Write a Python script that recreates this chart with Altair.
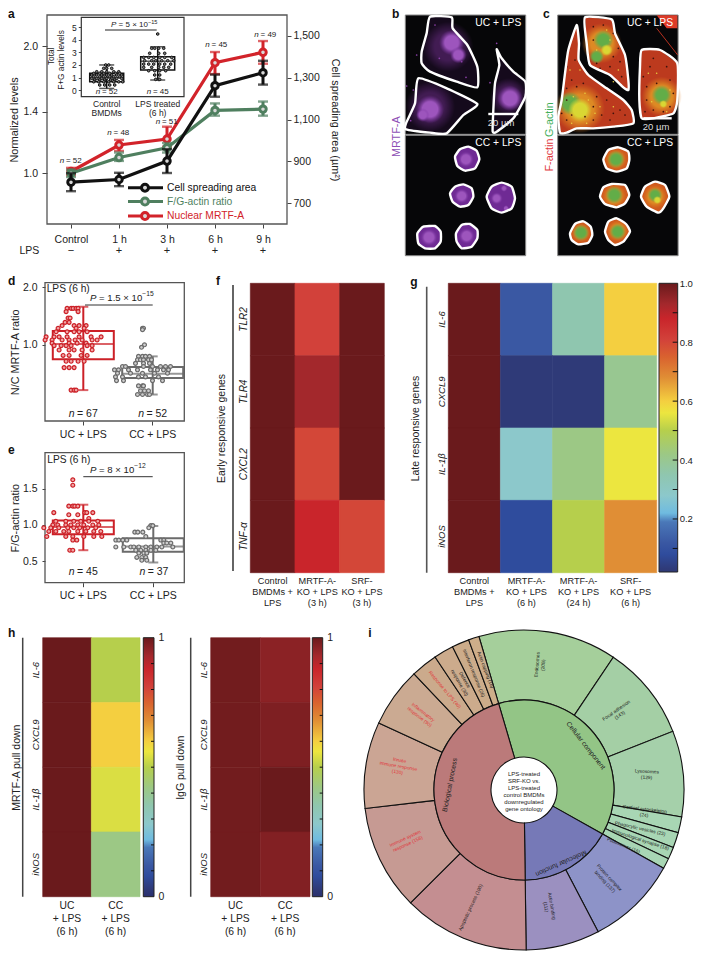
import math
import altair as alt
import pandas as pd

W, H = 686, 944
INK = "#222222"
FRAME = "#555555"
RED = "#d2232a"
GREEN = "#4f7f5f"
BLACK = "#111111"
layers = []

# ---------- data : panel a ----------
TIMES = ["Control", "1 h", "3 h", "6 h", "9 h"]
LPS_ROW = ["−", "+", "+", "+", "+"]
AREA = [800, 813, 901, 1262, 1324]
AREA_ERR = [43, 32, 57, 53, 57]
FG = [1.00, 1.09, 1.15, 1.41, 1.42]
FG_LO = [0.98, 1.07, 1.12, 1.37, 1.37]
FG_HI = [1.02, 1.12, 1.18, 1.465, 1.48]
NUC = [1.01, 1.167, 1.206, 1.83, 1.937]
NUC_LO = [0.99, 1.13, 1.156, 1.72, 1.82]
NUC_HI = [1.03, 1.20, 1.29, 1.94, 2.06]

# inset : box (q1, median, q3, low, high) and dots (value, [offsets])
INSET_CATS = ["Control|BMDMs", "LPS treated|(6 h)"]
INSET_BOX = [(0.66, 0.98, 1.33, 0.13, 2.0), (1.6, 2.3, 2.66, 0.8, 3.45)]
INSET_CTRL = [(2.0, [-1, 2]), (1.73, [-3, 0, 5]), (1.46, [-10, -5, 0, 7, 12]), (1.33, [-13, -7, -3, 3, 9, 13]),
              (1.2, [-15, -10, -5, 0, 5, 10, 15]), (1.06, [-13, -7, -3, 3, 7, 13]), (0.93, [-15, -10, -5, 0, 5, 10, 15]),
              (0.8, [-12, -7, -2, 4, 8]), (0.66, [-13, -8, -3, 2, 7, 12, 16]), (0.4, [-7, -2, 3, 8])]
INSET_LPS = [(4.47, [0]), (3.33, [-6, -3, 1, 6]), (2.93, [-8, 1, 7]), (2.6, [-14, -9, -4, 2, 7, 14]),
             (2.34, [-13, -6, -2, 4, 10, 16]), (2.07, [-14, -9, -4, 2, 7, 13]), (1.81, [-14, -6, 1, 6, 11]),
             (1.54, [-9, -3, 2, 8]), (1.2, [-3, 2]), (0.85, [-2, 1, 2])]

# ---------- data : panels d, e ----------
BOX_CATS = ["UC + LPS", "CC + LPS"]
D_BOX = [(0.84, 1.01, 1.18, 0.58, 1.58), (0.67, 0.706, 0.765, 0.55, 0.87)]
E_BOX = [(0.87, 0.97, 1.06, 0.65, 1.28), (0.63, 0.70, 0.815, 0.48, 0.985)]
D_UC = [(1.55, [-7, -3, -1, 2, 4]), (1.49, [-8, 4]), (1.38, [-6, -4]), (1.31, [-9, -5]), (1.26, [-12, 0, 5, 12]),
        (1.22, [-16, 2, 10]), (1.17, [-18, -7, 0, 5, 13]), (1.10, [-28, -20, -15, -7, 5, 17, 27]),
        (1.06, [-29, -22, -12, -5, 1, 8, 18, 23]), (1.02, [-22, -5, 3, 12]), (0.99, [-20, -13, -8, -3, 13, 18]),
        (0.94, [-15, -5, 0, 8, 18]), (0.88, [-11, -5, 7, 13]), (0.82, [-8, -3, 4, 10]), (0.76, [-10, -5, 0]),
        (0.58, [-3, 0, 2])]
D_CC = [(1.22, [-1, 0]), (1.2, [-1]), (1.0, [1]), (0.97, [-2]), (0.87, [-5, -1, 2, 6]), (0.835, [-6, -3, 0, 5, 8]),
        (0.80, [-8, 0, 6]), (0.77, [-21, -18, 0, 9, 17, 22, 27]), (0.74, [-29, -25, -15, -6, 7, 14, 20, 25]),
        (0.71, [-26, -13, -1, 11, 24]), (0.68, [-28, -21, -5, 2, 15]), (0.65, [-27, -20, 9, 19]), (0.61, [-5, -1, 0]),
        (0.575, [-3, 1, 5]), (0.55, [-6, -1, 4, 6])]
E_UC = [(1.625, [-1]), (1.55, [-1]), (1.26, [-5, -1, 1, 4]), (1.17, [-20, 11, 13, 19]), (1.14, [-5, 4]), (1.09, [15]),
        (1.05, [-18, -8, 0, 7, 15, 24]), (1.0, [-21, -16, -8, -3, 4, 10, 19, 25]), (0.96, [-30, -23, -15, -6, 0, 6, 14, 22]),
        (0.91, [-25, -18, -10, -5, 4, 12, 20, 27]), (0.84, [-27, -8, -1, 10, 20, 28]), (0.79, [-1, 3]), (0.65, [-4, -1])]
E_CC = [(0.99, [7, 9]), (0.96, [5]), (0.90, [-9, -6, -1]), (0.84, [2]), (0.79, [-28, -25, -21, -17, 17, 20]),
        (0.75, [20, 23, 27]), (0.695, [-28, -20, -13, -10, -5, 2, 7, 13, 18, 29]), (0.65, [-8, -3, 2, 7, 12]),
        (0.61, [-5, 0, 3]), (0.55, [-7, -2, 2]), (0.51, [-2, 3])]

# ---------- data : heat maps ----------
CM_V = [0.0, 0.03, 0.08, 0.12, 0.19, 0.22, 0.28, 0.35, 0.42, 0.5, 0.56, 0.6, 0.68, 0.75, 0.81, 0.88, 0.93, 1.0]
CM_C = ["#2a2f6e", "#2f3a78", "#2f4c9d", "#3a58a3", "#4a78b8", "#6fbbe0", "#8cc8cb", "#8fc6af", "#9cc885",
        "#b6cf4c", "#ece63f", "#f4cf40", "#e08e35", "#d9622f", "#d2413a", "#c9252b", "#a3282c", "#6a1a1c"]
F_ROWS = ["TLR2", "TLR4", "CXCL2", "TNF-α"]
F_COLS = ["Control|BMDMs +|LPS", "MRTF-A-|KO + LPS|(3 h)", "SRF-|KO + LPS|(3 h)"]
F_VALS = [[1, 0.81, 1], [1, 0.93, 1], [1, 0.80, 1], [1, 0.88, 0.80]]
G_ROWS = ["IL-6", "CXCL9", "IL-1β", "iNOS"]
G_COLS = ["Control|BMDMs +|LPS", "MRTF-A-|KO + LPS|(6 h)", "MRTF-A-|KO + LPS|(24 h)", "SRF-|KO + LPS|(6 h)"]
G_VALS = [[1, 0.12, 0.35, 0.6], [1, 0.03, 0.03, 0.40], [1, 0.28, 0.42, 0.56], [1, 0.08, 0.5, 0.68]]
H_ROWS = ["IL-6", "CXCL9", "IL-1β", "iNOS"]
H_COLS = ["UC|+ LPS|(6 h)", "CC|+ LPS|(6 h)"]
H1_VALS = [[1, 0.5], [1, 0.6], [1, 0.54], [1, 0.42]]
H2_VALS = [[0.99, 0.96], [0.99, 0.975], [0.99, 1.0], [0.99, 0.97]]
G_BAR_TICKS = [0.1, 0.2, 0.3, 0.4, 0.5, 0.6, 0.7, 0.8, 0.9]
H_BAR_TICKS = [0.1, 0.2, 0.3, 0.4, 0.5, 0.6, 0.7, 0.8, 0.9]

# ---------- data : sunburst ----------
SB_NAMES = ["Endosomes", "Focal adhesion", "Lysosomes", "Cortical cytoskeleton", "Phagocytic vesicles",
            "Immunological synapse", "Podosomes", "Protein complex binding", "Actin binding", "Apoptotic process",
            "Immune system response", "Innate immune response", "Inflammatory response", "Response to LPS",
            "Defence response", "Interferon response", "Actin capping"]
SB_N = [208, 143, 129, 24, 23, 18, 16, 137, 111, 190, 158, 130, 90, 40, 30, 26, 16]
SB_GROUP = ["C"] * 7 + ["M"] * 2 + ["B"] * 8
SB_COL = ["#a5cf9b", "#a4cfa5", "#a5d0aa", "#a8d6b4", "#a8d6b4", "#a8d6b4", "#a8d6b4", "#8d93c8", "#9b90c0",
          "#c48e91", "#c69a93", "#cba594", "#cbaa92", "#cbaa8c", "#ccab8c", "#ccac8a", "#cdae8a"]
SB_INNER = {"C": "#93c586", "M": "#7679b7", "B": "#bb7a7a"}

# ---------- data : micrographs (traced in a 966 x 810 picture space) ----------
B_UC = [[(150, 50), (215, 52), (218, 85), (262, 135), (292, 200), (292, 262), (230, 245), (150, 215), (125, 190), (125, 155), (140, 100)],
        [(115, 235), (200, 265), (292, 312), (250, 345), (200, 400), (150, 398), (78, 388), (78, 370), (105, 310)],
        [(350, 148), (365, 175), (400, 215), (436, 245), (436, 290), (400, 355), (350, 395), (338, 395), (340, 330), (345, 250), (358, 195)]]
B_CC = [[(225, 470), (240, 448), (265, 440), (290, 452), (298, 478), (285, 505), (255, 512), (232, 498)],
        [(210, 580), (225, 560), (250, 553), (275, 565), (280, 590), (265, 615), (240, 620), (218, 605)],
        [(320, 590), (335, 560), (365, 548), (395, 560), (405, 595), (395, 625), (365, 638), (335, 625)],
        [(112, 700), (130, 680), (165, 678), (182, 695), (182, 725), (165, 745), (135, 745), (115, 730)],
        [(228, 700), (245, 675), (270, 672), (292, 690), (292, 715), (275, 740), (245, 745), (230, 725)]]
C_UC = [[(615, 52), (695, 58), (705, 100), (735, 165), (745, 240), (745, 270), (730, 262), (690, 225), (630, 195), (620, 130)],
        [(590, 75), (597, 130), (596, 180), (625, 225), (680, 265), (730, 300), (755, 330), (760, 370), (700, 380), (640, 385), (590, 385), (560, 398), (540, 398), (535, 350), (545, 300), (555, 220), (565, 150)],
        [(785, 150), (840, 150), (892, 190), (892, 300), (880, 340), (820, 355), (785, 355), (778, 300), (780, 200)]]
C_CC = [[(670, 478), (685, 450), (715, 442), (745, 455), (748, 480), (740, 505), (710, 515), (680, 505)],
        [(660, 590), (670, 562), (695, 552), (735, 555), (748, 585), (735, 610), (710, 622), (675, 612)],
        [(783, 590), (795, 560), (825, 545), (855, 555), (868, 590), (850, 625), (835, 638), (800, 620)],
        [(570, 700), (585, 672), (610, 664), (632, 680), (637, 705), (625, 728), (595, 733), (575, 720)],
        [(675, 695), (685, 665), (710, 655), (738, 672), (750, 695), (730, 725), (705, 735), (685, 720)]]
C_CORNER = [[(830, 46), (892, 46), (892, 85), (860, 85)]]
PURPLE_BLOBS = [(215, 128, 38), (235, 165, 25), (150, 328, 42), (128, 345, 20), (390, 295, 38),
                (258, 478, 24), (245, 588, 22), (350, 595, 18), (372, 565, 10), (378, 625, 9), (147, 712, 26), (260, 708, 24)]
PURPLE_HAZE = [(205, 140, 75), (150, 320, 75), (385, 290, 55)]
PURPLE_DOTS = [(178, 175), (258, 232), (92, 362), (80, 258), (350, 130), (165, 75), (110, 165), (330, 248), (245, 185), (100, 270)]
ORANGE_BLOBS = [(665, 130, 60), (600, 325, 75), (845, 290, 60), (708, 478, 32), (703, 588, 36), (825, 590, 36), (603, 698, 28), (713, 692, 32)]
GREEN_BLOBS = [(670, 120, 30), (650, 170, 22), (570, 310, 35), (845, 285, 30), (708, 478, 26), (703, 585, 26), (825, 585, 22), (603, 698, 24), (713, 695, 24)]
YELLOW_BLOBS = [(680, 150, 18), (600, 330, 36), (850, 312, 12), (832, 600, 12)]
DARK_SPECKS = [(560, 200), (575, 240), (560, 300), (640, 120), (690, 200), (660, 205), (720, 185), (725, 230), (810, 200), (830, 250),
               (800, 300), (870, 240), (870, 320), (820, 330), (640, 360), (700, 340), (560, 360), (590, 260), (680, 300), (720, 330),
               (650, 290), (790, 230), (700, 100), (730, 150), (615, 350), (545, 340), (585, 180), (610, 250), (640, 320), (560, 265),
               (575, 345), (665, 345), (735, 345), (690, 360), (820, 175), (860, 200), (800, 260), (880, 280), (795, 335), (850, 335),
               (640, 80), (670, 75), (650, 190), (700, 170), (715, 145)]
HOT_SPECKS = [(580, 290), (625, 300), (615, 280), (645, 340), (660, 320), (575, 370), (620, 370), (700, 320), (650, 150), (690, 120), (680, 90),
              (715, 210), (700, 245), (830, 220), (815, 305), (870, 270), (805, 220), (860, 335), (600, 210), (570, 210)]


# ---------- helpers ----------
def v(a):
    return alt.value(a - 8)


def txt(s, x, y, size=10.5, angle=0, align="center", color=INK, style=None, weight=None, lh=None, baseline="middle"):
    kw = dict(text=s, fontSize=size, align=align, baseline=baseline, color=color, angle=angle)
    if style:
        kw["fontStyle"] = style
    if weight:
        kw["fontWeight"] = weight
    if lh:
        kw["lineHeight"] = lh
    if isinstance(s, list) and len(s) > 1:
        # a multi-line text hangs from its first line : centre the block by hand
        dy = -(len(s) - 1) * (lh or size) / 2
        a = math.radians(angle)
        x, y = x - dy * math.sin(a), y + dy * math.cos(a)
    return alt.Chart().mark_text(**kw).encode(x=v(x), y=v(y))


def rule(x0, y0, x1, y1, color=INK, w=1.2):
    return alt.Chart().mark_rule(color=color, strokeWidth=w).encode(x=v(x0), x2=v(x1), y=v(y0), y2=v(y1))


def frame(x0, y0, x1, y1, stroke=FRAME, fill="transparent", w=1.3):
    return alt.Chart().mark_rect(fill=fill, stroke=stroke, strokeWidth=w).encode(x=v(x0), x2=v(x1), y=v(y0), y2=v(y1))


WID = {"=": .584, "×": .584, " ": .278, ".": .278}


def width(s, size):
    return sum(WID.get(c, .556) for c in s) * size


def n_text(cx, y, rest, size):
    tail = "= " + rest
    total = .5 * size + .278 * size + width(tail, size)
    left = cx - total / 2
    return [txt("n", left, y, size, align="left", style="italic"), txt(tail, left + .778 * size, y, size, align="left")]


def p_text(x, y, main, sup, size):
    tail = "= " + main
    tw = width(tail, size)
    start = x + .945 * size
    return [txt("P", x, y, size, align="left", style="italic"),
            txt(tail, start, y, size, align="left"),
            txt(sup, start + tw, y - size * .42, size * .7, align="left")]


def expand(cat, rows):
    out = []
    for val, dxs in rows:
        for d in dxs:
            out.append({"cat": cat, "v": val, "dx": d})
    return out


def x_bottom(y_px, size=10.5, pad=4, tick=4, split=False, lh=11, ticks=True):
    kw = dict(orient="bottom", offset=y_px - 8 - H, title=None, domain=False, labelAngle=0, labelFontSize=size,
              labelPadding=pad, tickSize=tick if ticks else 0, ticks=ticks, labelOverlap=False, labelLimit=0)
    if split:
        kw["labelExpr"] = "split(datum.label, '|')"
        kw["labelLineHeight"] = lh
    return alt.Axis(**kw)


def box_panel(cats, boxes, dots, colors, fills, xcenters, y_scale, y_axis, x_axis, boxw, capw, sw, dotsize, dotsw):
    step = xcenters[1] - xcenters[0]
    xs = alt.Scale(type="band", domain=cats, range=[xcenters[0] - step / 2 - 8, xcenters[1] + step / 2 - 8], paddingInner=0, paddingOuter=0)
    df = pd.DataFrame([dict(cat=c, q1=b[0], med=b[1], q3=b[2], lo=b[3], hi=b[4], col=k, fil=f)
                       for c, b, k, f in zip(cats, boxes, colors, fills)])
    pts = pd.DataFrame(dots)
    x_none = alt.X("cat:N", scale=xs, axis=None)
    out = []
    for i, cat in enumerate(cats):
        sub = df[df.cat == cat]
        col = colors[i]
        out.append(alt.Chart(sub).mark_rule(color=col, strokeWidth=sw).encode(x=x_none, y=alt.Y("lo:Q", scale=y_scale, axis=None), y2="hi:Q"))
        out.append(alt.Chart(sub).mark_tick(color=col, size=capw, thickness=sw).encode(x=x_none, y=alt.Y("lo:Q", scale=y_scale, axis=None)))
        out.append(alt.Chart(sub).mark_tick(color=col, size=capw, thickness=sw).encode(x=x_none, y=alt.Y("hi:Q", scale=y_scale, axis=None)))
        out.append(alt.Chart(sub).mark_bar(fill="white", fillOpacity=0.0, stroke=col, strokeWidth=sw, size=boxw).encode(x=x_none, y=alt.Y("q1:Q", scale=y_scale, axis=None), y2="q3:Q"))
        out.append(alt.Chart(sub).mark_tick(color=col, size=boxw, thickness=sw).encode(x=x_none, y=alt.Y("med:Q", scale=y_scale, axis=None)))
        out.append(alt.Chart(pts[pts.cat == cat]).mark_circle(fill=fills[i], stroke=col, strokeWidth=dotsw, size=dotsize, opacity=1).encode(
            x=x_none, y=alt.Y("v:Q", scale=y_scale, axis=None),
            xOffset=alt.XOffset("dx:Q", scale=alt.Scale(domain=[-60, 60], range=[-60 + step / 2, 60 + step / 2]))))
    carrier = alt.Chart(df).mark_tick(opacity=0).encode(x=alt.X("cat:N", scale=xs, axis=x_axis), y=alt.Y("med:Q", scale=y_scale, axis=y_axis))
    return [carrier, alt.layer(*out)]


CMAP = alt.Scale(domain=CM_V, range=CM_C, interpolate="rgb")


def heat(rows, cols, vals, x0, x1, y0, y1, title, gene_size, title_pad, x_size, lh, x_pad):
    df = pd.DataFrame([dict(r=r, c=c, v=vals[i][j]) for i, r in enumerate(rows) for j, c in enumerate(cols)])
    xs = alt.Scale(type="band", domain=cols, range=[x0 - 8, x1 - 8], paddingInner=0, paddingOuter=0)
    ys = alt.Scale(type="band", domain=rows, range=[y0 - 8, y1 - 8], paddingInner=0, paddingOuter=0)
    return alt.Chart(df).mark_rect(width=(x1 - x0) / len(cols), strokeWidth=0.6, opacity=1).encode(
        x=alt.X("c:N", scale=xs, axis=x_bottom(y1, size=x_size, pad=x_pad, split=True, lh=lh, ticks=False)),
        y=alt.Y("r:N", scale=ys, axis=alt.Axis(orient="left", offset=-(x0 - 8), title=title, titleFontSize=10.5, titleFontWeight="normal",
                                                titlePadding=title_pad, domain=False, ticks=False, labelAngle=270,
                                                labelFontStyle="italic", labelFontSize=gene_size, labelPadding=2, titleColor=INK)),
        color=alt.Color("v:Q", scale=CMAP, legend=None),
        stroke=alt.Stroke("v:Q", scale=CMAP, legend=None))


def colorbar(x0, x1, y0, y1, dom, ticks, labels, fmt, tick_len, label_size=10.5, label_pad=4):
    ys = alt.Scale(domain=dom, range=[y1 - 8, y0 - 8], nice=False, zero=False)
    span = dom[1] - dom[0]
    stops = [dict(offset=max(0.0, (a - dom[0]) / span), color=c) for a, c in zip(CM_V, CM_C) if a >= dom[0]]
    grad = alt.LinearGradient(gradient="linear", x1=0, x2=0, y1=1, y2=0, stops=stops)
    ends = pd.DataFrame({"lo": [dom[0]], "hi": [dom[1]]})
    carrier = alt.Chart(ends).mark_rule(opacity=0).encode(
        y=alt.Y("lo:Q", scale=ys, axis=alt.Axis(orient="right", offset=x1 - 8 - W, title=None, domain=False, tickSize=0, values=labels,
                                                format=fmt, labelFontSize=label_size, labelPadding=label_pad)))
    body = alt.Chart(ends).mark_rect(fill=grad, stroke="#222222", strokeWidth=1).encode(
        x=v(x0), x2=v(x1), y=alt.Y("lo:Q", scale=ys, axis=None), y2="hi:Q")
    tk = alt.Chart(pd.DataFrame({"t": ticks})).mark_rule(color="#111111", strokeWidth=1).encode(
        x=v(x1 - tick_len), x2=v(x1), y=alt.Y("t:Q", scale=ys, axis=None))
    return [carrier, alt.layer(body, tk)]


# ---------- panel a ----------
layers.append(frame(47, 15, 287, 224))
xa = alt.Scale(type="point", domain=TIMES, range=[39, 279], padding=0.5)
yl = alt.Scale(type="log", domain=[0.758, 2.375], range=[216, 7], nice=False)
yr = alt.Scale(domain=[600, 1600], range=[216, 7], nice=False, zero=False)


def series(vals, lo, hi, color, ys):
    df = pd.DataFrame({"t": TIMES, "m": vals, "lo": lo, "hi": hi})
    x = alt.X("t:N", scale=xa, axis=None)
    return [alt.Chart(df).mark_line(color=color, strokeWidth=3.2).encode(x=x, y=alt.Y("m:Q", scale=ys, axis=None)),
            alt.Chart(df).mark_rule(color=color, strokeWidth=3).encode(x=x, y=alt.Y("lo:Q", scale=ys, axis=None), y2="hi:Q"),
            alt.Chart(df).mark_tick(color=color, size=10, thickness=2.4).encode(x=x, y=alt.Y("lo:Q", scale=ys, axis=None)),
            alt.Chart(df).mark_tick(color=color, size=10, thickness=2.4).encode(x=x, y=alt.Y("hi:Q", scale=ys, axis=None)),
            alt.Chart(df).mark_point(shape="circle", fill="#d8d8d8", stroke=color, strokeWidth=3, size=42, opacity=1, filled=False).encode(x=x, y=alt.Y("m:Q", scale=ys, axis=None))]


a_df = pd.DataFrame({"t": TIMES, "m": NUC, "lps": LPS_ROW})
layers.append(alt.Chart(a_df).mark_tick(opacity=0).encode(
    x=alt.X("t:N", scale=xa, axis=x_bottom(224, size=10.5, pad=6, tick=4)),
    y=alt.Y("m:Q", scale=yl, axis=alt.Axis(orient="left", offset=-39, title="Normalized levels", titleFontSize=10.8, titleFontWeight="normal",
                                            titleColor=INK, titlePadding=3, values=[1.0, 1.4, 2.0], format=".1f", labelFontSize=10.5, domain=False, tickSize=5, labelPadding=4.5))))
a_lps = alt.Chart(a_df).mark_text(fontSize=11, color=INK).encode(x=alt.X("t:N", scale=xa, axis=None), y=alt.value(250.7 - 8), text="lps:N")
layers.append(alt.layer(a_lps, *series(NUC, NUC_LO, NUC_HI, RED, yl), *series(FG, FG_LO, FG_HI, GREEN, yl)))
area_lo = [m - e for m, e in zip(AREA, AREA_ERR)]
area_hi = [m + e for m, e in zip(AREA, AREA_ERR)]
layers.append(alt.Chart(pd.DataFrame({"t": TIMES, "m": AREA})).mark_tick(opacity=0).encode(
    x=alt.X("t:N", scale=xa, axis=None),
    y=alt.Y("m:Q", scale=yr, axis=alt.Axis(orient="right", offset=279 - W, title="Cell spreading area (µm²)", titleFontSize=10.8, titleFontWeight="normal",
                                            titleColor=INK, titlePadding=10, values=[700, 900, 1100, 1300, 1500], format=",d", labelFontSize=10.5, domain=False, tickSize=4))))
layers.append(alt.layer(*series(AREA, area_lo, area_hi, BLACK, yr)))

for lab, col, tcol, yy in [("Cell spreading area", BLACK, BLACK, 187.7), ("F/G-actin ratio", GREEN, GREEN, 201.5), ("Nuclear MRTF-A", RED, RED, 216)]:
    layers.append(rule(128, yy, 163, yy, col, 3))
    layers.append(alt.Chart().mark_point(shape="circle", fill="#d8d8d8", stroke=col, strokeWidth=3, size=48, opacity=1).encode(x=v(145), y=v(yy)))
    layers.append(txt(lab, 167, yy, 10.3, align="left", color=tcol))
layers.append(txt("LPS", 29.3, 250.7, 10.5))
for cx, y, s in [(70.7, 160.7, "52"), (118.3, 132.7, "48"), (166.7, 122, "51"), (216.3, 45, "45"), (265.3, 35, "49")]:
    layers += n_text(cx, y, s, 8)

# inset
layers.append(frame(81.3, 17.3, 184, 96.7, stroke="#333333", fill="white", w=1.2))
in_y = alt.Scale(domain=[-0.53, 5.8], range=[88.7, 9.3], nice=False, zero=False)
layers += box_panel(INSET_CATS, INSET_BOX, expand(INSET_CATS[0], INSET_CTRL) + expand(INSET_CATS[1], INSET_LPS),
                    [BLACK, BLACK], ["#777777", "#777777"], [106.7, 157.7], in_y,
                    alt.Axis(orient="left", offset=-(81.3 - 8), title=None, values=[0, 1, 2, 3, 4, 5], format="d", labelFontSize=8.5, domain=False, tickSize=3, labelPadding=2),
                    x_bottom(96.7, size=8.5, pad=3, tick=0, split=True, lh=8.5, ticks=False), 34, 15, 1.5, 7, 1)
layers.append(txt("Total", 52.3, 56.3, 8.3, angle=270))
layers.append(txt("F+G actin levels", 62.3, 60, 8.3, angle=270))
layers.append(rule(105, 30, 156.7, 30, "#222222", 1))
layers += p_text(111, 25, "5 × 10", "−15", 8)
layers += n_text(106.7, 92, "52", 8)
layers += n_text(157.7, 92, "45", 8)

# ---------- panels b, c ----------
IX = alt.Scale(domain=[0, 966], range=[372, 372 + 322], nice=False, zero=False)
IY = alt.Scale(domain=[0, 810], range=[-8, 262], nice=False, zero=False)


def polys(rings, color, opacity=1.0):
    feats = [{"type": "Feature", "properties": {"k": i},
              "geometry": {"type": "Polygon", "coordinates": [[list(p) for p in r] + [list(r[0])]]}} for i, r in enumerate(rings)]
    return alt.Chart(alt.Data(values=feats)).mark_geoshape(fill=color, stroke=None, opacity=opacity).project(type="identity", scale=1 / 3, translate=[372, -8])


def smooth(rings, w=2.4, tension=0.5):
    df = pd.DataFrame([dict(cell=i, o=j, x=p[0], y=p[1]) for i, r in enumerate(rings) for j, p in enumerate(r)])
    return alt.Chart(df).mark_line(color="white", strokeWidth=w, interpolate="cardinal-closed", tension=tension).encode(
        x=alt.X("x:Q", scale=IX, axis=None), y=alt.Y("y:Q", scale=IY, axis=None), detail="cell:N", order="o:Q")


def blobs(items, inner, outer):
    df = pd.DataFrame([dict(x=a, y=b, s=(2 * r / 3) ** 2) for a, b, r in items])
    grad = alt.RadialGradient(gradient="radial", stops=[dict(offset=0, color=inner), dict(offset=0.55, color=inner), dict(offset=1, color=outer)])
    return alt.Chart(df).mark_circle(fill=grad, opacity=1, stroke=None).encode(
        x=alt.X("x:Q", scale=IX, axis=None), y=alt.Y("y:Q", scale=IY, axis=None), size=alt.Size("s:Q", scale=None))


def dots(items, color, s):
    df = pd.DataFrame(items, columns=["x", "y"])
    return alt.Chart(df).mark_circle(color=color, opacity=1, size=s).encode(
        x=alt.X("x:Q", scale=IX, axis=None), y=alt.Y("y:Q", scale=IY, axis=None))


for x0 in (405.3, 557.7):
    layers.append(frame(x0, 15, x0 + 120.4, 134.3, stroke="#8a8a8a", fill="#060608", w=1))
    layers.append(frame(x0, 135.3, x0 + 120.4, 255.7, stroke="#8a8a8a", fill="#060608", w=1))

layers.append(polys(B_UC, "#150a1c"))
layers.append(polys(B_CC, "#6f2a94"))
layers.append(blobs(PURPLE_HAZE, "rgba(120,50,150,0.45)", "rgba(120,50,150,0)"))
layers.append(blobs(PURPLE_BLOBS, "#9d55bd", "rgba(120,50,160,0)"))
layers.append(dots(PURPLE_DOTS, "#8b3fa8", 3))
layers.append(smooth(B_UC))
layers.append(smooth(B_CC))

layers.append(polys(C_UC, "#bc3a1e"))
layers.append(polys(C_CORNER, "#dd3b28"))
layers.append(polys(C_CC, "#cf5a1e"))
layers.append(rule(656.7, 28.3, 677.7, 55, "#b5301f", 1))
layers.append(blobs(ORANGE_BLOBS, "#dd8a24", "rgba(221,120,30,0)"))
layers.append(blobs(GREEN_BLOBS, "#62ad48", "rgba(98,173,72,0)"))
layers.append(blobs(YELLOW_BLOBS, "#d9d733", "rgba(217,215,51,0)"))
layers.append(dots(DARK_SPECKS, "#3d120c", 3))
layers.append(dots(HOT_SPECKS, "#e8d040", 2.5))
layers.append(smooth(C_UC))
layers.append(smooth(C_CC))

for x, s in [(498.3, "UC + LPS"), (650, "UC + LPS")]:
    layers.append(txt(s, x, 22.7, 10.3, color="white"))
for x, s in [(498.3, "CC + LPS"), (650, "CC + LPS")]:
    layers.append(txt(s, x, 142.7, 10.3, color="white"))
layers.append(rule(488.3, 114, 518.3, 114, "white", 2.4))
layers.append(txt("20 µm", 501, 122.7, 9.5, color="#dddddd"))
layers.append(rule(643.3, 118.3, 671.7, 118.3, "white", 2.4))
layers.append(txt("20 µm", 656, 126.7, 9.5, color="#dddddd"))
layers.append(txt("MRTF-A", 397.3, 136.7, 10.8, angle=270, color="#8e4fb5"))
layers.append(txt("F-actin", 550, 155, 10.8, angle=270, color="#e0393e"))
layers.append(txt("G-actin", 550, 119.7, 10.8, angle=270, color="#3fae5a"))

# ---------- panels d, e ----------
RED_D = "#cc2027"
GRAY_D = "#6b6b6b"
layers.append(frame(45, 282.7, 184.3, 421))
layers += box_panel(BOX_CATS, D_BOX, expand(BOX_CATS[0], D_UC) + expand(BOX_CATS[1], D_CC), [RED_D, GRAY_D], ["#f0a5a5", "#cfcfcf"],
                    [83.3, 152.7], alt.Scale(type="log", domain=[0.4, 2.11], range=[413, 274.7], nice=False),
                    alt.Axis(orient="left", offset=-37, title="N/C MRTF-A ratio", titleFontSize=10.8, titleFontWeight="normal", titleColor=INK, titlePadding=2,
                             values=[1.0, 2.0], format=".1f", labelFontSize=10.5, domain=False, tickSize=3, labelPadding=5),
                    x_bottom(421, pad=4), 61, 10, 2, 15, 1.2)
layers.append(frame(45, 452.7, 184.3, 582.7))
layers += box_panel(BOX_CATS, E_BOX, expand(BOX_CATS[0], E_UC) + expand(BOX_CATS[1], E_CC), [RED_D, GRAY_D], ["#f0a5a5", "#cfcfcf"],
                    [83.3, 153.3], alt.Scale(domain=[0.2, 2.0], range=[574.7, 444.7], nice=False, zero=False),
                    alt.Axis(orient="left", offset=-37, title="F/G-actin ratio", titleFontSize=10.8, titleFontWeight="normal", titleColor=INK, titlePadding=2,
                             values=[0.5, 1.0, 1.5], format=".1f", labelFontSize=10.5, domain=False, tickSize=3, labelPadding=5),
                    x_bottom(582.7, pad=4), 61, 10, 2, 15, 1.2)
layers.append(txt("LPS (6 h)", 46.7, 289, 10.2, align="left"))
layers += p_text(90, 298.3, "1.5 × 10", "−15", 9.6)
layers.append(rule(85, 305, 152.7, 305, "#333333", 1))
layers.append(txt("LPS (6 h)", 47.3, 460, 10.2, align="left"))
layers += p_text(90, 470, "8 × 10", "−12", 9.6)
layers.append(rule(83.3, 476.7, 152.7, 476.7, "#333333", 1))
layers += n_text(83.3, 414.3, "67", 10.5)
layers += n_text(152.7, 414.3, "52", 10.5)
layers += n_text(83.3, 571.7, "45", 10.5)
layers += n_text(154, 571.7, "37", 10.5)

# ---------- panels f, g ----------
layers.append(heat(F_ROWS, F_COLS, F_VALS, 250.3, 384.3, 283.3, 572.7, "Early responsive genes", 10, 12, 9.2, 11, 4))
layers.append(rule(233, 285, 233, 571, "#111111", 1.3))
layers.append(heat(G_ROWS, G_COLS, G_VALS, 448.3, 656.7, 283.3, 572.7, "Late responsive genes", 9.5, 16, 9.2, 11, 4))
layers.append(rule(426.7, 286.7, 426.7, 572.7, "#555555", 1.6))
layers += colorbar(659, 677.7, 283.3, 572, [0.02, 1.0], G_BAR_TICKS, [0.2, 0.4, 0.6, 0.8, 1.0], ".1f", 5, label_size=9.5, label_pad=1.5)

# ---------- panel h ----------
layers.append(heat(H_ROWS, H_COLS, H1_VALS, 42.7, 140, 637.7, 896.7, "MRTF-A pull down", 9.5, 9, 10.3, 13, 4))
layers.append(rule(22.7, 637.7, 22.7, 896.7, "#444444", 1.5))
layers += colorbar(143.3, 154, 637.7, 896.7, [0.0, 1.0], H_BAR_TICKS, [0, 1], "d", 3)
layers.append(heat(H_ROWS, H_COLS, H2_VALS, 210.7, 310, 637.7, 896.7, "IgG pull down", 9.5, 13, 10.3, 13, 4))
layers.append(rule(190.7, 637.7, 190.7, 896.7, "#444444", 1.5))
layers += colorbar(312.3, 322.7, 637.7, 896.7, [0.0, 1.0], H_BAR_TICKS, [0, 1], "d", 3)

# ---------- panel i ----------
sb = pd.DataFrame({"name": SB_NAMES, "n": SB_N, "group": SB_GROUP, "col": SB_COL})
sb["end"] = sb["n"].cumsum()
sb["start"] = sb["end"] - sb["n"]
total = int(sb["n"].sum())
inner = sb.groupby("group", sort=False).agg(start=("start", "min"), end=("end", "max")).reset_index()
inner["col"] = inner["group"].map(SB_INNER)
TH = alt.Scale(domain=[0, total], range=[5.9976, 5.9976 + 6.28319], nice=False, zero=False)
CX, CY = 524, 790
for data, r0, r1 in [(sb, 90, 160), (inner, 33, 90)]:
    layers.append(alt.Chart(data).mark_arc(stroke="#111111", strokeWidth=1.1, radius=r1, radius2=r0).encode(
        theta=alt.Theta("start:Q", scale=TH, stack=None), theta2="end:Q",
        fill=alt.Fill("col:N", scale=None), x=v(CX), y=v(CY)))
layers.append(txt(["LPS-treated", "SRF-KO vs.", "LPS-treated", "control BMDMs", "downregulated", "gene ontology"], CX, 791.3, 6, lh=7))


def i_txt(lines, zx, zy, ang, red=False, size=4.8):
    return txt(lines, 345 + zx / 3, 620 + zy / 3, size, angle=ang, color="#e0343a" if red else "#1c1c1c", lh=size * 1.25)


for args in [
    (["Endosomes", "(208)"], 587, 135, 275), (["Focal adhesion", "(143)"], 820, 280, 325), (["Lysosomes", "(129)"], 905, 465, 3),
    (["Cortical cytoskeleton", "(24)"], 898, 578, 7), (["Phagocytic vesicles (23)"], 885, 627, 13), (["Immunological synapse (18)"], 885, 660, 18),
    (["Podosomes (16)"], 835, 678, 22), (["Protein complex", "binding (137)"], 785, 780, 47), (["Actin binding", "(111)"], 610, 860, 80),
    (["Apoptotic process (190)"], 378, 863, 295), (["Interferon response (26)"], 385, 160, 68), (["Actin capping (16)"], 420, 150, 69),
    (["Defence", "response (30)"], 350, 185, 60)]:
    layers.append(i_txt(*args))
for args in [
    (["Immune system", "response (158)"], 185, 665, 335), (["Innate", "immune response", "(130)"], 160, 440, 10),
    (["Inflammatory", "response (90)"], 228, 285, 38), (["Response to LPS (40)"], 298, 210, 50)]:
    layers.append(i_txt(*args, True))
layers.append(txt("Biological process", 450, 785, 6.8, angle=281, color="#222222"))
layers.append(txt("Cellular component", 585.7, 745.7, 6.8, angle=52, color="#222222"))
layers.append(txt("Molecular function", 561, 863.3, 6.8, angle=156, color="#222222"))

# ---------- panel letters ----------
for s, x, y, a in [("a", 8, 14, "left"), ("b", 392, 14, "left"), ("c", 543, 14, "left"), ("d", 8, 281, "left"), ("e", 8, 450, "left"),
                   ("f", 218, 281, "center"), ("g", 414, 282, "center"), ("h", 8, 633, "left"), ("i", 370, 633, "center")]:
    layers.append(txt(s, x, y, 12, align=a, color="#111111", weight="bold"))

chart = alt.layer(*layers).resolve_scale(x="independent", y="independent").properties(
    width=W, height=H, padding=0, autosize=alt.AutoSizeParams(type="none", contains="padding")
).configure(font="Liberation Sans").configure_view(stroke=None).configure_axis(
    grid=False, labelColor=INK, tickColor="#444444", labelFont="Liberation Sans", titleFont="Liberation Sans")

chart.save("out.html", embed_options={"renderer": "svg", "actions": False})
